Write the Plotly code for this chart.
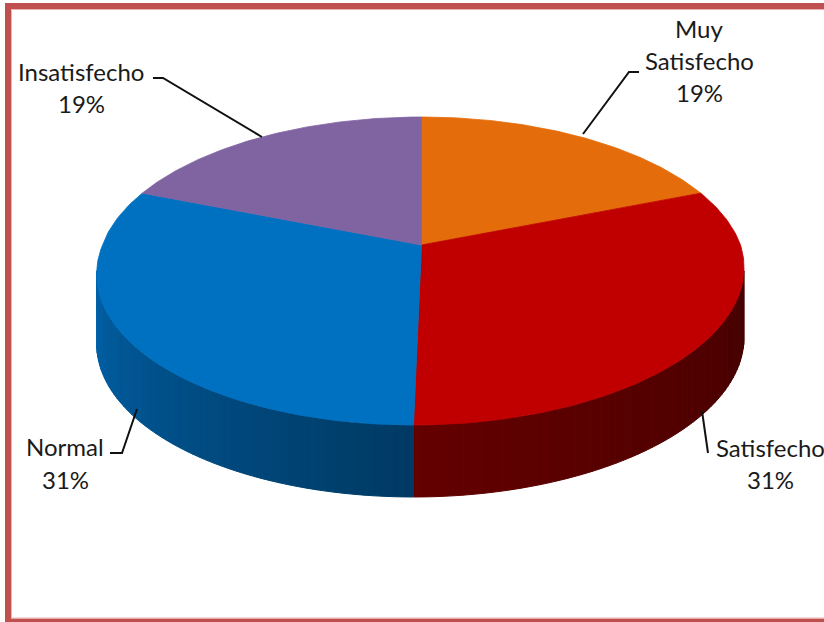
import numpy as np
import plotly.graph_objects as go

# ---------------- data ----------------
categories = ["Muy Satisfecho", "Satisfecho", "Normal", "Insatisfecho"]
label_lines = [["Muy", "Satisfecho"], ["Satisfecho"], ["Normal"], ["Insatisfecho"]]
percentages = [19, 31, 31, 19]
colors = ["#E46C0A", "#C00000", "#0070C0", "#8064A2"]

# ---------------- geometry (pixel space, pseudo-3D perspective) ----------------
W, H = 824, 622
CX, APEX_Y = 421.5, 245.0
BY, CP = -108.25, 0.1688      # vertical projective params
RAD = 319.0                   # horizontal radius
KSH = 6.65                    # slight front shear


def proj(theta_deg, r=1.0, bottom=False):
    t = np.radians(theta_deg)
    u = r * np.sin(t)
    w = r * np.cos(t)
    den = 1 + CP * w
    x = CX + (RAD * u + KSH * np.minimum(0, w)) / den
    y = (APEX_Y + BY * w) / den
    if bottom:
        y = y + (69 - 3 * w)
    return x, y


def shade(hex_color, f):
    hex_color = hex_color.lstrip("#")
    r, g, b = (int(hex_color[i:i + 2], 16) for i in (0, 2, 4))
    return "rgb(%d,%d,%d)" % (r * f, g * f, b * f)


total = float(sum(percentages))
bounds = np.concatenate([[0], np.cumsum(percentages)]) / total * 360.0

fig = go.Figure()

# ---- side walls (front half only) ----
TH0 = np.degrees(np.arccos(-CP))
TH1 = 360 - TH0
for i, col in enumerate(colors):
    a, b = max(bounds[i], TH0), min(bounds[i + 1], TH1)
    if b <= a:
        continue
    n = max(2, int(np.ceil((b - a) / 1.5)))
    edges = np.linspace(a, b, n + 1)
    for j in range(n):
        t0, t1 = edges[j], edges[j + 1]
        ts = np.linspace(t0, t1, 4)
        xt, yt = proj(ts)
        xb, yb = proj(ts[::-1], bottom=True)
        xs = np.concatenate([xt, xb, xt[:1]])
        ys = np.concatenate([yt, yb, yt[:1]])
        f = float(np.interp((t0 + t1) / 2, [TH0, 180, TH1], [0.36, 0.52, 0.88]))
        c = shade(col, f)
        fig.add_trace(go.Scatter(x=xs, y=ys, mode="lines", fill="toself",
                                 fillcolor=c, line=dict(color=c, width=1),
                                 hoverinfo="skip", showlegend=False))

# ---- top face slices ----
for i, col in enumerate(colors):
    ts = np.linspace(bounds[i], bounds[i + 1], 120)
    xr, yr = proj(ts)
    ax, ay = proj(0.0, r=0.0)
    xs = np.concatenate([[ax], xr, [ax]])
    ys = np.concatenate([[ay], yr, [ay]])
    fig.add_trace(go.Scatter(x=xs, y=ys, mode="lines", fill="toself",
                             fillcolor=col, line=dict(color=col, width=0.8),
                             hoverinfo="skip", showlegend=False, name=categories[i]))

# ---- leader lines ----
leaders = [
    ([639, 629, 583], [72, 72, 134]),
    ([708, 702], [453, 411]),
    ([110, 122, 137], [453, 453, 409]),
    ([153, 163, 262], [78, 78, 137]),
]
for lx, ly in leaders:
    fig.add_trace(go.Scatter(x=lx, y=ly, mode="lines",
                             line=dict(color="#111111", width=2),
                             hoverinfo="skip", showlegend=False))

# ---- labels ----
label_pos = [(699, [28, 60, 92]), (770, [447, 479]), (65, [446, 479]), (81, [71, 103])]
annotations = []
for i, (lxp, lys) in enumerate(label_pos):
    lines = label_lines[i] + ["%d%%" % percentages[i]]
    for txt, yy in zip(lines, lys):
        annotations.append(dict(x=lxp, y=yy, xref="x", yref="y", text=txt,
                                showarrow=False, xanchor="center", yanchor="middle",
                                font=dict(family="Lato", size=24, color="#1a1a1a")))

# ---- frame ----
shapes = [
    dict(type="rect", xref="x", yref="y", x0=8, y0=6, x1=840, y1=621.5,
         line=dict(color="#C0504D", width=6), fillcolor="rgba(0,0,0,0)", layer="above"),
    dict(type="rect", xref="x", yref="y", x0=11.5, y0=9.5, x1=840, y1=618,
         line=dict(color="#E8B4B3", width=1), fillcolor="rgba(0,0,0,0)", layer="above"),
]

fig.update_layout(
    width=W, height=H,
    margin=dict(l=0, r=0, t=0, b=0),
    paper_bgcolor="white", plot_bgcolor="white",
    xaxis=dict(range=[0, W], visible=False, fixedrange=True),
    yaxis=dict(range=[H, 0], visible=False, fixedrange=True),
    annotations=annotations, shapes=shapes, showlegend=False,
)

fig.write_html("out.html")
